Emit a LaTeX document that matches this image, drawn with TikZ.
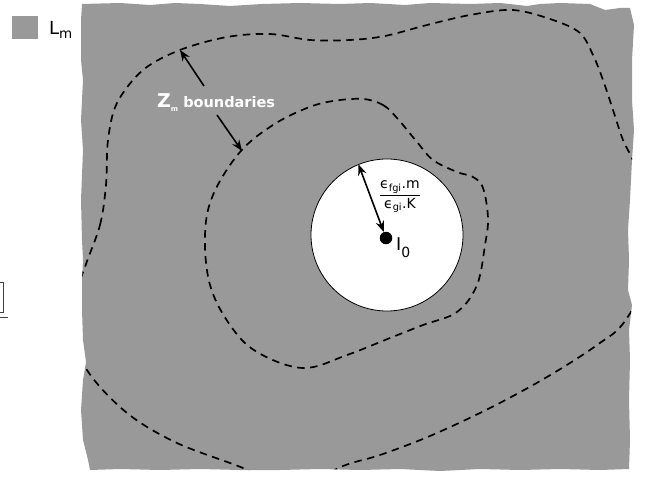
\documentclass[tikz,border=0pt]{standalone}
\usepackage{fontspec}
\setmainfont{DejaVu Sans}
\usetikzlibrary{arrows.meta}
\definecolor{zonegray}{HTML}{999999}
\tikzset{
  boundary/.style={line width=1.7pt, dash pattern=on 7.5pt off 5.5pt},
  onehead/.style={line width=1.6pt, -{Stealth[length=11pt,width=8.5pt]}},
  twohead/.style={line width=1.6pt, {Stealth[length=11pt,width=8.5pt]}-{Stealth[length=11pt,width=8.5pt]}},
  lbl/.style={inner sep=0pt, anchor=base west},
}
\begin{document}
\begin{tikzpicture}[x=1pt,y=-1pt]
\useasboundingbox (0,0) rectangle (647,476);
% cropped artefact at the left edge
\draw[black!75, line width=0.8pt] (-5,282) rectangle (3,312);
\draw[black!75, line width=0.8pt] (0,317) -- (8,317);
% legend
\node[fill=zonegray, minimum width=26pt, minimum height=23pt, inner sep=0pt] (legbox) at (25,27.5) {};
\node[lbl] (legtxt) at (49,35) {\fontsize{18}{18}\selectfont L\raisebox{-4pt}{\fontsize{13.5}{14}\selectfont m}};
% rough grey region
\path[fill=zonegray, save path=\zonepath]
  (82,4) -- (120,3) -- (150,5) -- (175,3) -- (200,4) -- (230,6) -- (262,4) -- (300,3) -- (340,4)
  -- (370,3) -- (405,5) -- (430,3) -- (470,4) -- (500,3) -- (527,6) -- (540,4) -- (560,3)
  -- (590,4) -- (605,10) -- (620,8) -- (630,8)
  -- (634,25) -- (632,60) -- (632,100) -- (634,130) -- (632,160) -- (630,200) -- (628,230)
  -- (629,260) -- (628,290) -- (632,305) -- (629,330) -- (630,360) -- (629,400) -- (630,440) -- (629,469)
  -- (600,470) -- (560,469) -- (520,470) -- (480,469) -- (440,471) -- (400,469) -- (360,470)
  -- (320,469) -- (280,470) -- (240,470) -- (200,469) -- (160,470) -- (120,469) -- (90,470)
  -- (88,460) -- (83,440) -- (81,410) -- (83,380) -- (86,362) -- (83,340) -- (82,310) -- (82,280)
  -- (83,260) -- (82,240) -- (81,200) -- (83,150) -- (81,120) -- (83,80) -- (81,60) -- (81,20) -- cycle;
% outer boundary (clipped by the region)
\begin{scope}
\clip[use path=\zonepath];
\draw[boundary] plot[smooth cycle, tension=0.55] coordinates {
  (85,267) (100,225) (106,185) (108,140) (117,103) (143,70) (180,50) (227,37) (270,34)
  (310,40) (350,40) (385,36) (427,25) (470,15) (513,10) (553,20) (580,33) (593,55)
  (603,80) (613,110) (623,140) (635,165) (665,240) (627,318) (597,345) (547,377)
  (490,408) (430,436) (380,455) (343,466) (290,490) (243,468) (177,443) (127,413)
  (87,370) (68,320)};
\end{scope}
% inner boundary
\draw[boundary] plot[smooth cycle, tension=0.6] coordinates {
  (363,99) (383,105) (397,118) (417,142) (433,160) (457,172) (473,177) (483,188)
  (488,218) (485,245) (477,285) (457,312) (423,325) (390,338) (347,355) (303,368)
  (257,352) (230,325) (210,285) (205,235) (213,195) (240,152) (273,125) (307,108) (333,101)};
% white zone and source
\node[circle, draw=black, line width=0.8pt, fill=white, minimum size=152pt, inner sep=0pt] (zone) at (387,235) {};
\node[circle, fill=black, minimum width=12.5pt, minimum height=11.5pt, inner sep=0pt] (src) at (386,238) {};
\draw[twohead] (zone.112.5) -- (src);
\node[lbl] (ilab) at (396,250) {\fontsize{17.5}{18}\selectfont I\raisebox{-7pt}{\fontsize{14}{14}\selectfont 0}};
\node[inner sep=0pt] (frac) at (400,197) {\fontsize{14}{16}\selectfont$\displaystyle\frac{\hbox{ϵ\textsubscript{fgi}.m}}{\hbox{ϵ\textsubscript{gi}.K}}$};
% Z_m label
\node[lbl, text=white] (zlab) at (157,108) {{\fontsize{19}{19}\bfseries Z}\raisebox{-4pt}{\fontsize{7}{7}\bfseries m}\hspace{5pt}{\fontsize{14.5}{15}\bfseries boundaries}};
\coordinate (tailA) at (204,86);
\coordinate (tipA) at (180,50);
\coordinate (tailB) at (217,115);
\coordinate (tipB) at (242,151);
\draw[onehead] (tailA) -- (tipA);
\draw[onehead] (tailB) -- (tipB);
\end{tikzpicture}
\end{document}
